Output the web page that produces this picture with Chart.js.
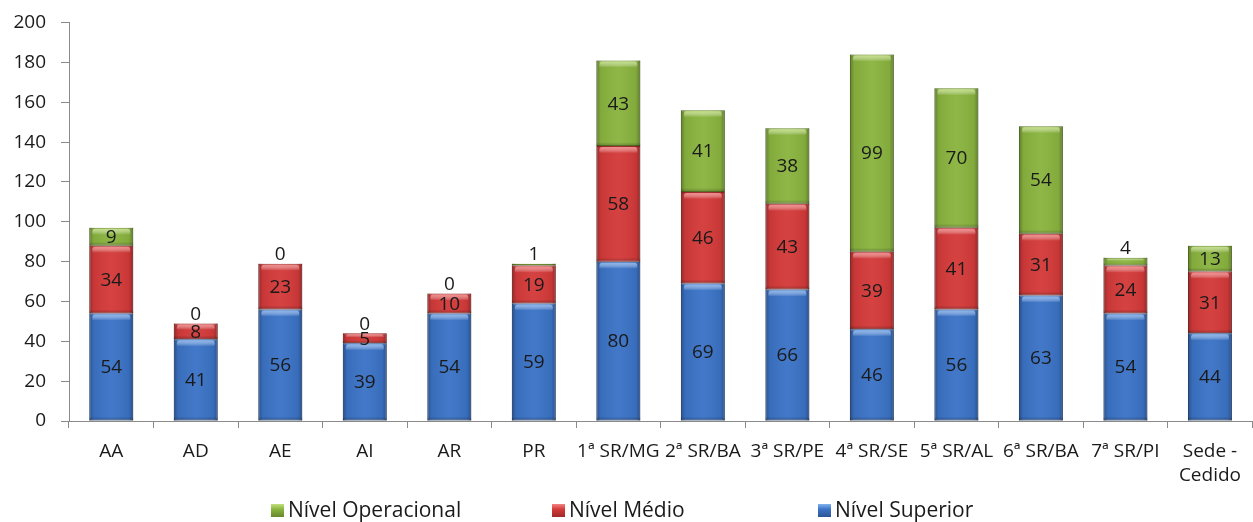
<!DOCTYPE html>
<html lang="pt">
<head>
<meta charset="utf-8">
<title>Servidores por lotação e nível</title>
<script src="https://cdn.jsdelivr.net/npm/chart.js@4/dist/chart.umd.min.js"></script>
<style>
  html, body { margin: 0; padding: 0; background: #ffffff; }
  canvas { display: block; }
</style>
</head>
<body>
<canvas id="chart" width="1253" height="522"></canvas>
<script>
// Lotações (eixo X)
const categories = ['AA', 'AD', 'AE', 'AI', 'AR', 'PR', '1ª SR/MG', '2ª SR/BA', '3ª SR/PE',
  '4ª SR/SE', '5ª SR/AL', '6ª SR/BA', '7ª SR/PI', ['Sede -', 'Cedido']];

// Quantidade de servidores por nível
const nivelSuperior    = [54, 41, 56, 39, 54, 59, 80, 69, 66, 46, 56, 63, 54, 44];
const nivelMedio       = [34,  8, 23,  5, 10, 19, 58, 46, 43, 39, 41, 31, 24, 31];
const nivelOperacional = [ 9,  0,  0,  0,  0,  1, 43, 41, 38, 99, 70, 54,  4, 13];

// Eixo Y
const yTicks = [0, 20, 40, 60, 80, 100, 120, 140, 160, 180, 200];

const FONT = '"Open Sans", "Noto Sans", "Liberation Sans", sans-serif';
const AXIS_COLOR = '#8a8a8a';
const TEXT_COLOR = '#1a1a1a';

const palette = {
  superior:    { fill: '#3b73c6', border: '#2a5494', light: '#82b3f0' },
  medio:       { fill: '#d43a3a', border: '#9e2a2a', light: '#f28585' },
  operacional: { fill: '#8ab43f', border: '#68882c', light: '#c3e180' }
};

// Sombreamento "chanfrado" das barras: bordas laterais escuras e faixa clara no topo
const bevelPlugin = {
  id: 'bevel',
  afterDatasetsDraw(chart) {
    const ctx = chart.ctx;
    ctx.save();
    chart.data.datasets.forEach((ds, di) => {
      const meta = chart.getDatasetMeta(di);
      meta.data.forEach((bar) => {
        const { x, y, base, width } = bar.getProps(['x', 'y', 'base', 'width'], true);
        const h = base - y;
        if (h < 1) return;
        const left = x - width / 2, right = x + width / 2;
        // laterais
        const g = ctx.createLinearGradient(left, 0, right, 0);
        g.addColorStop(0, 'rgba(0,0,0,0.30)');
        g.addColorStop(0.10, 'rgba(0,0,0,0.06)');
        g.addColorStop(0.5, 'rgba(255,255,255,0.04)');
        g.addColorStop(0.90, 'rgba(0,0,0,0.06)');
        g.addColorStop(1, 'rgba(0,0,0,0.30)');
        ctx.fillStyle = g;
        ctx.fillRect(left, y, width, h);
        // base mais escura
        const bh = Math.min(4, h / 3);
        const gb = ctx.createLinearGradient(0, base - bh, 0, base);
        gb.addColorStop(0, 'rgba(0,0,0,0)');
        gb.addColorStop(1, 'rgba(0,0,0,0.25)');
        ctx.fillStyle = gb;
        ctx.fillRect(left, base - bh, width, bh);
        // faixa clara no topo
        if (h > 6) {
          const th = Math.min(7, h / 2.5);
          const gt = ctx.createLinearGradient(0, y, 0, y + th);
          gt.addColorStop(0, ds.highlightColor);
          gt.addColorStop(1, 'rgba(255,255,255,0)');
          ctx.fillStyle = gt;
          ctx.beginPath();
          const inset = 3;
          if (ctx.roundRect) {
            ctx.roundRect(left + inset, y + 1, width - inset * 2, th, [3, 3, 0, 0]);
          } else {
            ctx.rect(left + inset, y + 1, width - inset * 2, th);
          }
          ctx.fill();
        }
      });
    });
    ctx.restore();
  }
};

// Rótulos de valor em cada segmento
const valueLabelPlugin = {
  id: 'valueLabels',
  afterDatasetsDraw(chart) {
    const ctx = chart.ctx;
    const last = chart.data.datasets.length - 1;
    ctx.save();
    ctx.font = '19px ' + FONT;
    ctx.fillStyle = TEXT_COLOR;
    ctx.textAlign = 'center';
    ctx.textBaseline = 'middle';
    chart.data.datasets.forEach((ds, di) => {
      const meta = chart.getDatasetMeta(di);
      meta.data.forEach((bar, i) => {
        const v = ds.data[i];
        const { x, y, base } = bar.getProps(['x', 'y', 'base'], true);
        let ly = (y + base) / 2;
        // valores muito pequenos no topo ficam acima da barra
        if (di === last && v < 5) ly = y - 10;
        ctx.fillText(String(v), x, ly + 1);
      });
    });
    ctx.restore();
  }
};

// Legenda na parte inferior
const legendPlugin = {
  id: 'bottomLegend',
  afterDraw(chart) {
    const ctx = chart.ctx;
    const order = [2, 1, 0];
    const startX = [271, 552, 818];
    const baseline = 517;
    const box = 13;
    ctx.save();
    ctx.font = '21px ' + FONT;
    ctx.textBaseline = 'alphabetic';
    ctx.textAlign = 'left';
    order.forEach((di, k) => {
      const ds = chart.data.datasets[di];
      const bx = startX[k], by = baseline - box;
      const g = ctx.createLinearGradient(0, by, 0, by + box);
      g.addColorStop(0, ds.highlightColor);
      g.addColorStop(0.4, ds.backgroundColor);
      g.addColorStop(1, ds.borderColor);
      ctx.fillStyle = g;
      ctx.fillRect(bx, by, box, box);
      ctx.fillStyle = TEXT_COLOR;
      ctx.fillText(ds.label, bx + box + 4, baseline);
    });
    ctx.restore();
  }
};

function makeDataset(label, data, colors) {
  return {
    label: label,
    data: data,
    backgroundColor: colors.fill,
    borderColor: colors.border,
    highlightColor: colors.light,
    borderWidth: 1,
    borderSkipped: false,
    categoryPercentage: 1,
    barPercentage: 0.52
  };
}

new Chart(document.getElementById('chart'), {
  type: 'bar',
  data: {
    labels: categories,
    datasets: [
      makeDataset('Nível Superior', nivelSuperior, palette.superior),
      makeDataset('Nível Médio', nivelMedio, palette.medio),
      makeDataset('Nível Operacional', nivelOperacional, palette.operacional)
    ]
  },
  options: {
    responsive: false,
    animation: false,
    layout: { padding: { top: 0, right: 0, bottom: 38, left: 0 } },
    plugins: {
      legend: { display: false },
      tooltip: { enabled: false }
    },
    scales: {
      x: {
        stacked: true,
        offset: true,
        border: { display: true, color: AXIS_COLOR, width: 1 },
        grid: {
          offset: true,
          drawOnChartArea: false,
          drawTicks: true,
          tickLength: 7,
          color: AXIS_COLOR
        },
        ticks: {
          color: TEXT_COLOR,
          font: { family: FONT, size: 19, lineHeight: 1.26 },
          padding: 12,
          maxRotation: 0,
          autoSkip: false
        },
        afterFit(scale) { scale.height = 63; }
      },
      y: {
        stacked: true,
        min: 0,
        max: 200,
        border: { display: true, color: AXIS_COLOR, width: 1 },
        grid: {
          drawOnChartArea: false,
          drawTicks: true,
          tickLength: 8,
          color: AXIS_COLOR
        },
        afterBuildTicks(scale) {
          scale.ticks = yTicks.map(v => ({ value: v }));
        },
        ticks: {
          color: TEXT_COLOR,
          font: { family: FONT, size: 19, lineHeight: 0.8 },
          padding: 15
        },
        afterFit(scale) { scale.width = 69; }
      }
    }
  },
  plugins: [bevelPlugin, valueLabelPlugin, legendPlugin]
});
</script>
</body>
</html>
